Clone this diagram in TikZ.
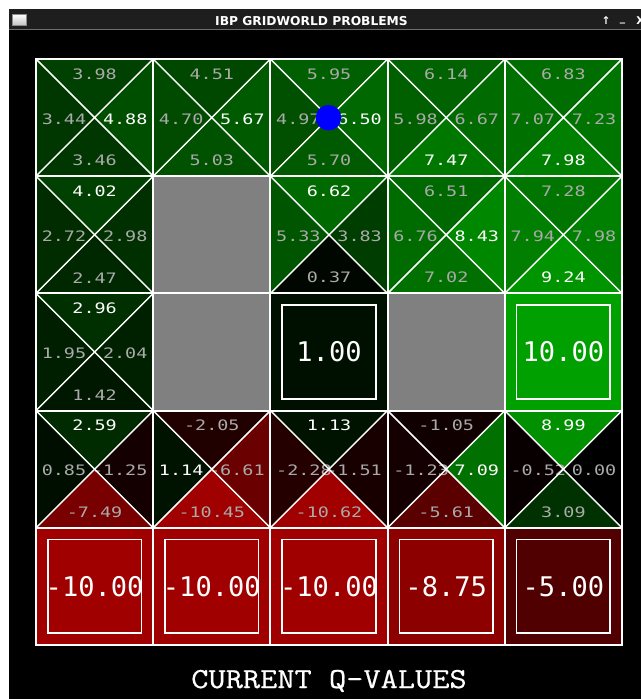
\documentclass[tikz,border=0pt]{standalone}
\usepackage{fontspec}
\newfontfamily\qmono[FakeStretch=1.28]{DejaVu Sans Mono}
\newfontfamily\bigmono{DejaVu Sans Mono}
\newfontfamily\capmono[FakeStretch=1.15,FakeBold=0.6]{Latin Modern Mono}
\newfontfamily\barfont{DejaVu Sans}
\definecolor{qpos}{RGB}{0,160,0}
\definecolor{qneg}{RGB}{160,0,0}
\definecolor{qgray}{RGB}{170,170,170}
\definecolor{qwall}{RGB}{128,128,128}
\definecolor{barbg}{RGB}{30,30,30}
\definecolor{barline}{RGB}{110,110,110}
\newcommand\setqcol[2]{%
  \pgfmathsetmacro\qpct{min(abs(#2)*10,100)}%
  \pgfmathtruncatemacro\qisneg{(#2<0)}%
  \ifnum\qisneg=1 \colorlet{#1}{qneg!\qpct!black}\else\colorlet{#1}{qpos!\qpct!black}\fi}
\tikzset{
  x=0.75pt, y=-0.75pt,
  qlab/.style={font={\qmono\fontsize{10.8}{12}\selectfont}, inner sep=0pt},
  bigval/.style={font={\bigmono\fontsize{20.3}{24}\selectfont}, text=white, inner sep=0pt},
  termbox/.style={draw=white, line width=1.2pt, minimum size=70.2pt, inner sep=0pt},
  diag/.style={draw=white, line width=1.1pt},
  gridline/.style={draw=white, line width=1.6pt, line cap=rect},
}
% col row north east south west maxdir
\newcommand\qcell[7]{%
  \def\qcn{qgray}\def\qce{qgray}\def\qcs{qgray}\def\qcw{qgray}%
  \expandafter\def\csname qc#7\endcsname{white}%
  \begin{scope}[shift={({36+#1*117.2},{59+#2*117.2})}]
    \coordinate (m#1#2) at (58.6,58.6);
    \setqcol{tn}{#3}\fill[tn] (0,0) -- (117.2,0) -- (m#1#2) -- cycle;
    \setqcol{te}{#4}\fill[te] (117.2,0) -- (117.2,117.2) -- (m#1#2) -- cycle;
    \setqcol{ts}{#5}\fill[ts] (117.2,117.2) -- (0,117.2) -- (m#1#2) -- cycle;
    \setqcol{tw}{#6}\fill[tw] (0,117.2) -- (0,0) -- (m#1#2) -- cycle;
    \node[qlab, text=\qcn] (n#1#2) at (58.6,15) {#3};
    \node[qlab, text=\qce, anchor=east] (e#1#2) at (111.7,59.8) {#4};
    \node[qlab, text=\qcs] (s#1#2) at (58.6,101.5) {#5};
    \node[qlab, text=\qcw, anchor=west] (w#1#2) at (5.5,59.8) {#6};
    \draw[diag] (0,0) -- (117.2,117.2) (117.2,0) -- (0,117.2);
  \end{scope}}
\newcommand\qterm[3]{%
  \setqcol{tt}{#3}%
  \begin{scope}[shift={({36+#1*117.2},{59+#2*117.2})}]
    \fill[tt] (0,0) rectangle (117.2,117.2);
    \node[termbox] (b#1#2) at (58.6,58.6) {};
    \node[bigval] (v#1#2) at (58.6,58.6) {#3};
  \end{scope}}
\newcommand\qwallcell[2]{%
  \fill[qwall] ({36+#1*117.2},{59+#2*117.2}) rectangle ++(117.2,117.2);}
\begin{document}
\begin{tikzpicture}
\useasboundingbox (0,0) rectangle (641,699);
\fill[white] (0,0) rectangle (641,699);
\fill[black] (9,9) rectangle (641,699);
\fill[barbg] (9,9) rectangle (641,30);
\draw[barline, line width=0.75pt] (9,30) -- (641,30);
\shade[top color=white, bottom color=black!25, draw=black!45, line width=0.5pt] (12.7,14.3) rectangle (26,25.7);
\node[font={\barfont\bfseries\fontsize{9.2}{11}\selectfont}, text=white, anchor=base, inner sep=0pt] (bartitle) at (311.5,25.5) {IBP GRIDWORLD PROBLEMS};
\node[font={\barfont\bfseries\fontsize{8}{10}\selectfont}, text=white, anchor=base, inner sep=0pt] (barup) at (606,25) {↑};
\node[font={\barfont\bfseries\fontsize{8}{10}\selectfont}, text=white, anchor=base, inner sep=0pt] (barmin) at (622.5,22) {\_};
\node[font={\barfont\bfseries\fontsize{8}{10}\selectfont}, text=white, anchor=base west, inner sep=0pt] (barx) at (636,25) {X};
% row 0
\qcell{0}{0}{3.98}{4.88}{3.46}{3.44}{e}
\qcell{1}{0}{4.51}{5.67}{5.03}{4.70}{e}
\qcell{2}{0}{5.95}{6.50}{5.70}{4.97}{e}
\qcell{3}{0}{6.14}{6.67}{7.47}{5.98}{s}
\qcell{4}{0}{6.83}{7.23}{7.98}{7.07}{s}
% row 1
\qcell{0}{1}{4.02}{2.98}{2.47}{2.72}{n}
\qwallcell{1}{1}
\qcell{2}{1}{6.62}{3.83}{0.37}{5.33}{n}
\qcell{3}{1}{6.51}{8.43}{7.02}{6.76}{e}
\qcell{4}{1}{7.28}{7.98}{9.24}{7.94}{s}
% row 2
\qcell{0}{2}{2.96}{2.04}{1.42}{1.95}{n}
\qwallcell{1}{2}
\qterm{2}{2}{1.00}
\qwallcell{3}{2}
\qterm{4}{2}{10.00}
% row 3
\qcell{0}{3}{2.59}{-1.25}{-7.49}{0.85}{n}
\qcell{1}{3}{-2.05}{-6.61}{-10.45}{1.14}{w}
\qcell{2}{3}{1.13}{-1.51}{-10.62}{-2.28}{n}
\qcell{3}{3}{-1.05}{7.09}{-5.61}{-1.23}{e}
\qcell{4}{3}{8.99}{0.00}{3.09}{-0.52}{n}
% row 4
\qterm{0}{4}{-10.00}
\qterm{1}{4}{-10.00}
\qterm{2}{4}{-10.00}
\qterm{3}{4}{-8.75}
\qterm{4}{4}{-5.00}
% grid
\foreach \i in {0,...,5} {
  \draw[gridline] ({36+\i*117.2},59) -- ({36+\i*117.2},645);
  \draw[gridline] (36,{59+\i*117.2}) -- (622,{59+\i*117.2});
}
\node[circle, fill=blue, inner sep=0pt, minimum size=19.2pt] (agent) at (328.5,117.7) {};
\node[font={\capmono\fontsize{21.8}{26}\selectfont}, text=white, anchor=base, inner sep=0pt] (caption) at (329,688) {CURRENT Q-VALUES};
\end{tikzpicture}
\end{document}
